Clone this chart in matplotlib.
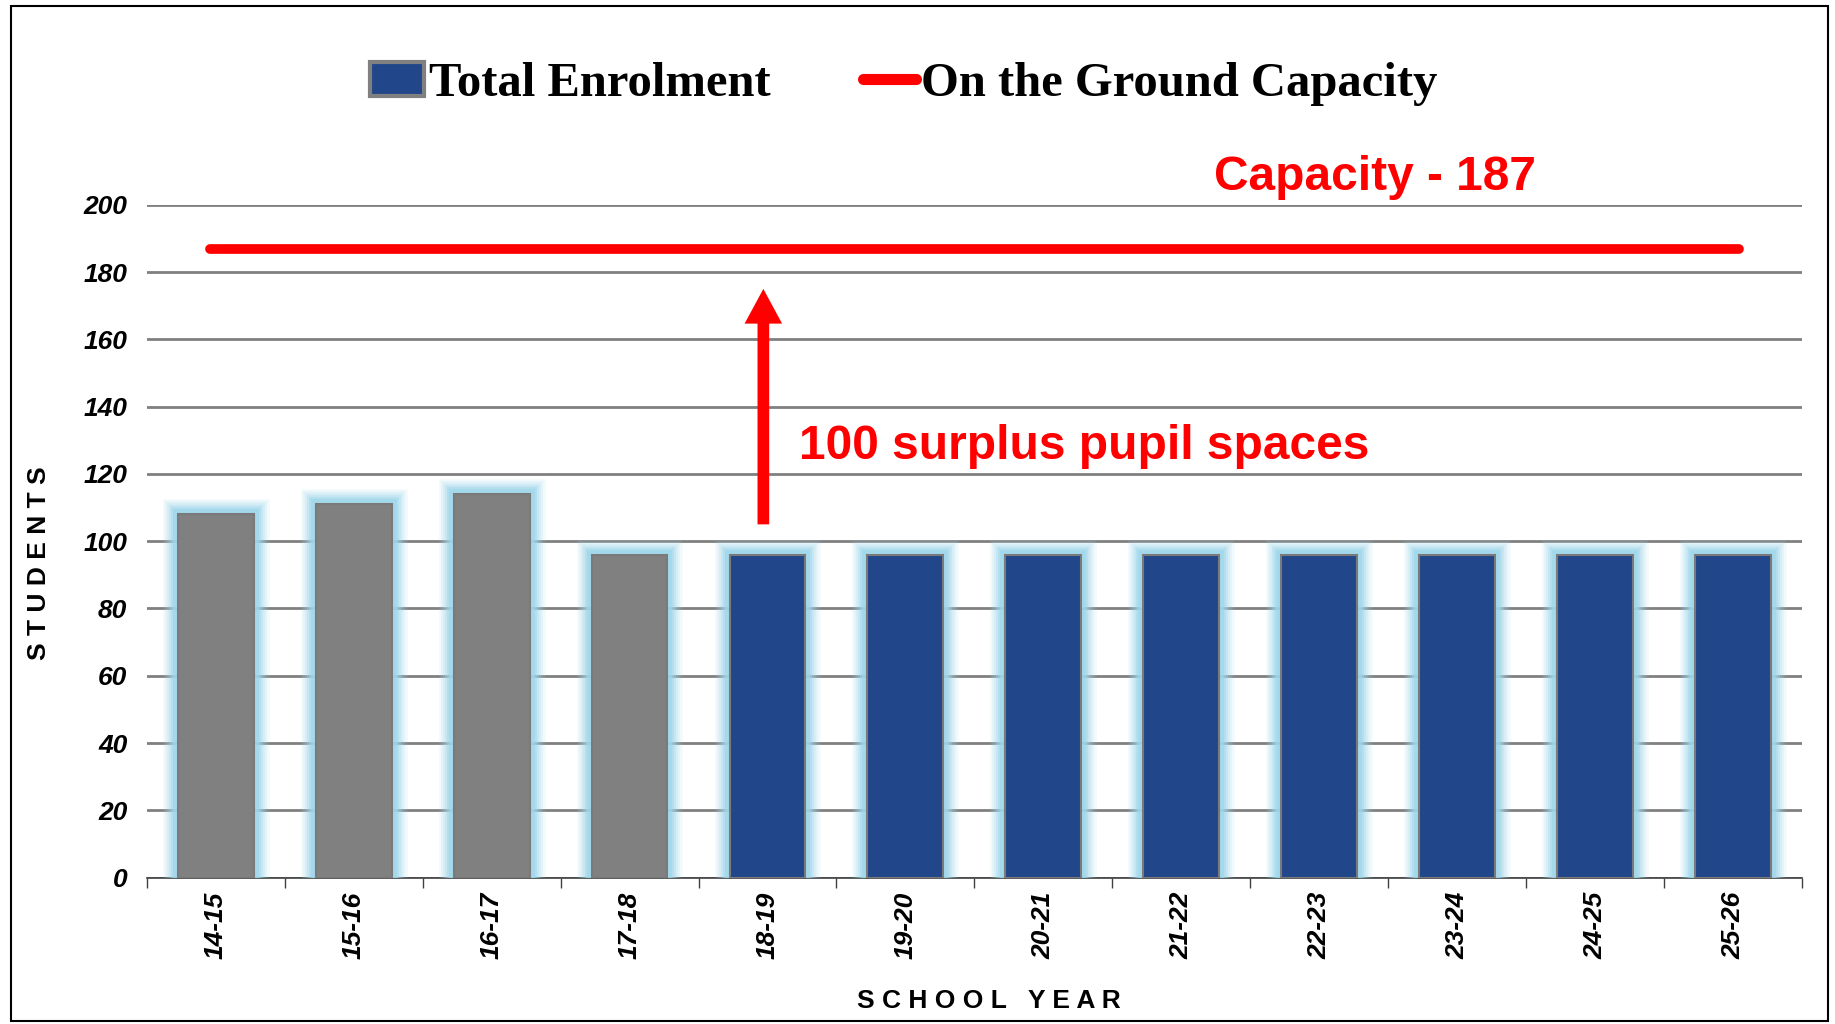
import matplotlib.pyplot as plt
import matplotlib.patheffects as pe
import numpy as np
from matplotlib.lines import Line2D
from matplotlib.patches import Patch, Rectangle


years = ["14-15", "15-16", "16-17", "17-18", "18-19", "19-20",
         "20-21", "21-22", "22-23", "23-24", "24-25", "25-26"]
enrolment = [108, 111, 114, 96, 96, 96, 96, 96, 96, 96, 96, 96]
actual_years = 4  # first four bars are actuals (grey), the rest projections
capacity = 187
surplus_label = "100 surplus pupil spaces"
capacity_label = "Capacity - 187"

GREY = "#808080"
BLUE = "#22468a"
GLOW = "#9ed6ea"
RED = "#ff0000"


def spaced(text):
    return " ".join(text)


fig = plt.figure(figsize=(18.35, 10.24), dpi=100)
ax = fig.add_axes([0.08, 0.143, 0.902, 0.657])

x = np.arange(len(years))
colors = [GREY if i < actual_years else BLUE for i in range(len(years))]
bars = ax.bar(x, enrolment, width=0.55, color=colors, edgecolor="#7a7a7a",
              linewidth=1.5, zorder=3)

# soft light-blue glow around each bar
glow = [pe.Stroke(linewidth=w, foreground=GLOW, alpha=a)
        for w, a in [(22, 0.12), (19, 0.15), (16, 0.2), (13, 0.3), (10, 0.45), (7, 0.7)]]
glow.append(pe.Normal())
for bar in bars:
    bar.set_path_effects(glow)

ax.plot([x[0] - 0.04, x[-1] + 0.04], [capacity, capacity], color=RED,
        linewidth=7, solid_capstyle="round", zorder=4)

ax.annotate("", xy=(3.97, 175), xytext=(3.97, 105),
            arrowprops=dict(arrowstyle="simple,head_width=1.35,head_length=1.25,tail_width=0.42",
                            color=RED, lw=0, shrinkA=0, shrinkB=0, mutation_scale=20),
            zorder=5)

ax.text(4.23, 128, surplus_label, color=RED, fontsize=34.5, fontweight="bold",
        family="Liberation Sans", va="center", ha="left", zorder=5)
ax.text(7.24, 208, capacity_label, color=RED, fontsize=34.5, fontweight="bold",
        family="Liberation Sans", va="center", ha="left", clip_on=False)

ax.set_ylim(0, 200)
ax.set_xlim(-0.5, len(years) - 0.5)
ax.set_yticks(range(0, 201, 20))
ax.yaxis.grid(True, color=GREY, linewidth=2, zorder=0)
ax.set_axisbelow(True)

for side in ["left", "right", "top"]:
    ax.spines[side].set_visible(False)
ax.spines["bottom"].set_color("#404040")
ax.spines["bottom"].set_linewidth(1.2)

ax.set_xticks(x)
ax.set_xticklabels(years, rotation=90, fontsize=19, fontweight="bold",
                   fontstyle="italic", family="Liberation Sans")
ax.set_xticks(np.arange(-0.5, len(years), 1), minor=True)
ax.tick_params(axis="x", which="major", length=0, pad=10)
ax.tick_params(axis="x", which="minor", length=7, color="#404040", width=1)
ax.tick_params(axis="y", length=0, pad=14)
for label in ax.get_yticklabels():
    label.set_fontsize(19)
    label.set_fontweight("bold")
    label.set_fontstyle("italic")
    label.set_family("Liberation Sans")

ax.set_ylabel(spaced("STUDENTS"), fontsize=19, fontweight="bold",
              family="Liberation Sans")
ax.yaxis.set_label_coords(-0.065, 0.468)
ax.set_xlabel(spaced("SCHOOL YEAR"), fontsize=19, fontweight="bold",
              family="Liberation Sans")
ax.xaxis.set_label_coords(0.509, -0.183)
ax.xaxis.label.set_va("center")
ax.yaxis.label.set_va("center")

handles = [
    Patch(facecolor=BLUE, edgecolor=GREY, linewidth=3),
    Line2D([0], [0], color=RED, linewidth=8, solid_capstyle="round"),
]
fig.legend(handles, ["Total Enrolment", "On the Ground Capacity"],
           loc="center", bbox_to_anchor=(0.4925, 0.918), ncol=2, frameon=False,
           prop={"family": "Liberation Serif", "weight": "bold", "size": 35},
           handlelength=1.1, handletextpad=0.1, columnspacing=1.9)

fig.patches.append(Rectangle((0.006, 0.003), 0.99, 0.991, transform=fig.transFigure,
                             fill=False, edgecolor="black", linewidth=1.5))

fig.savefig("out.png", dpi=100)
